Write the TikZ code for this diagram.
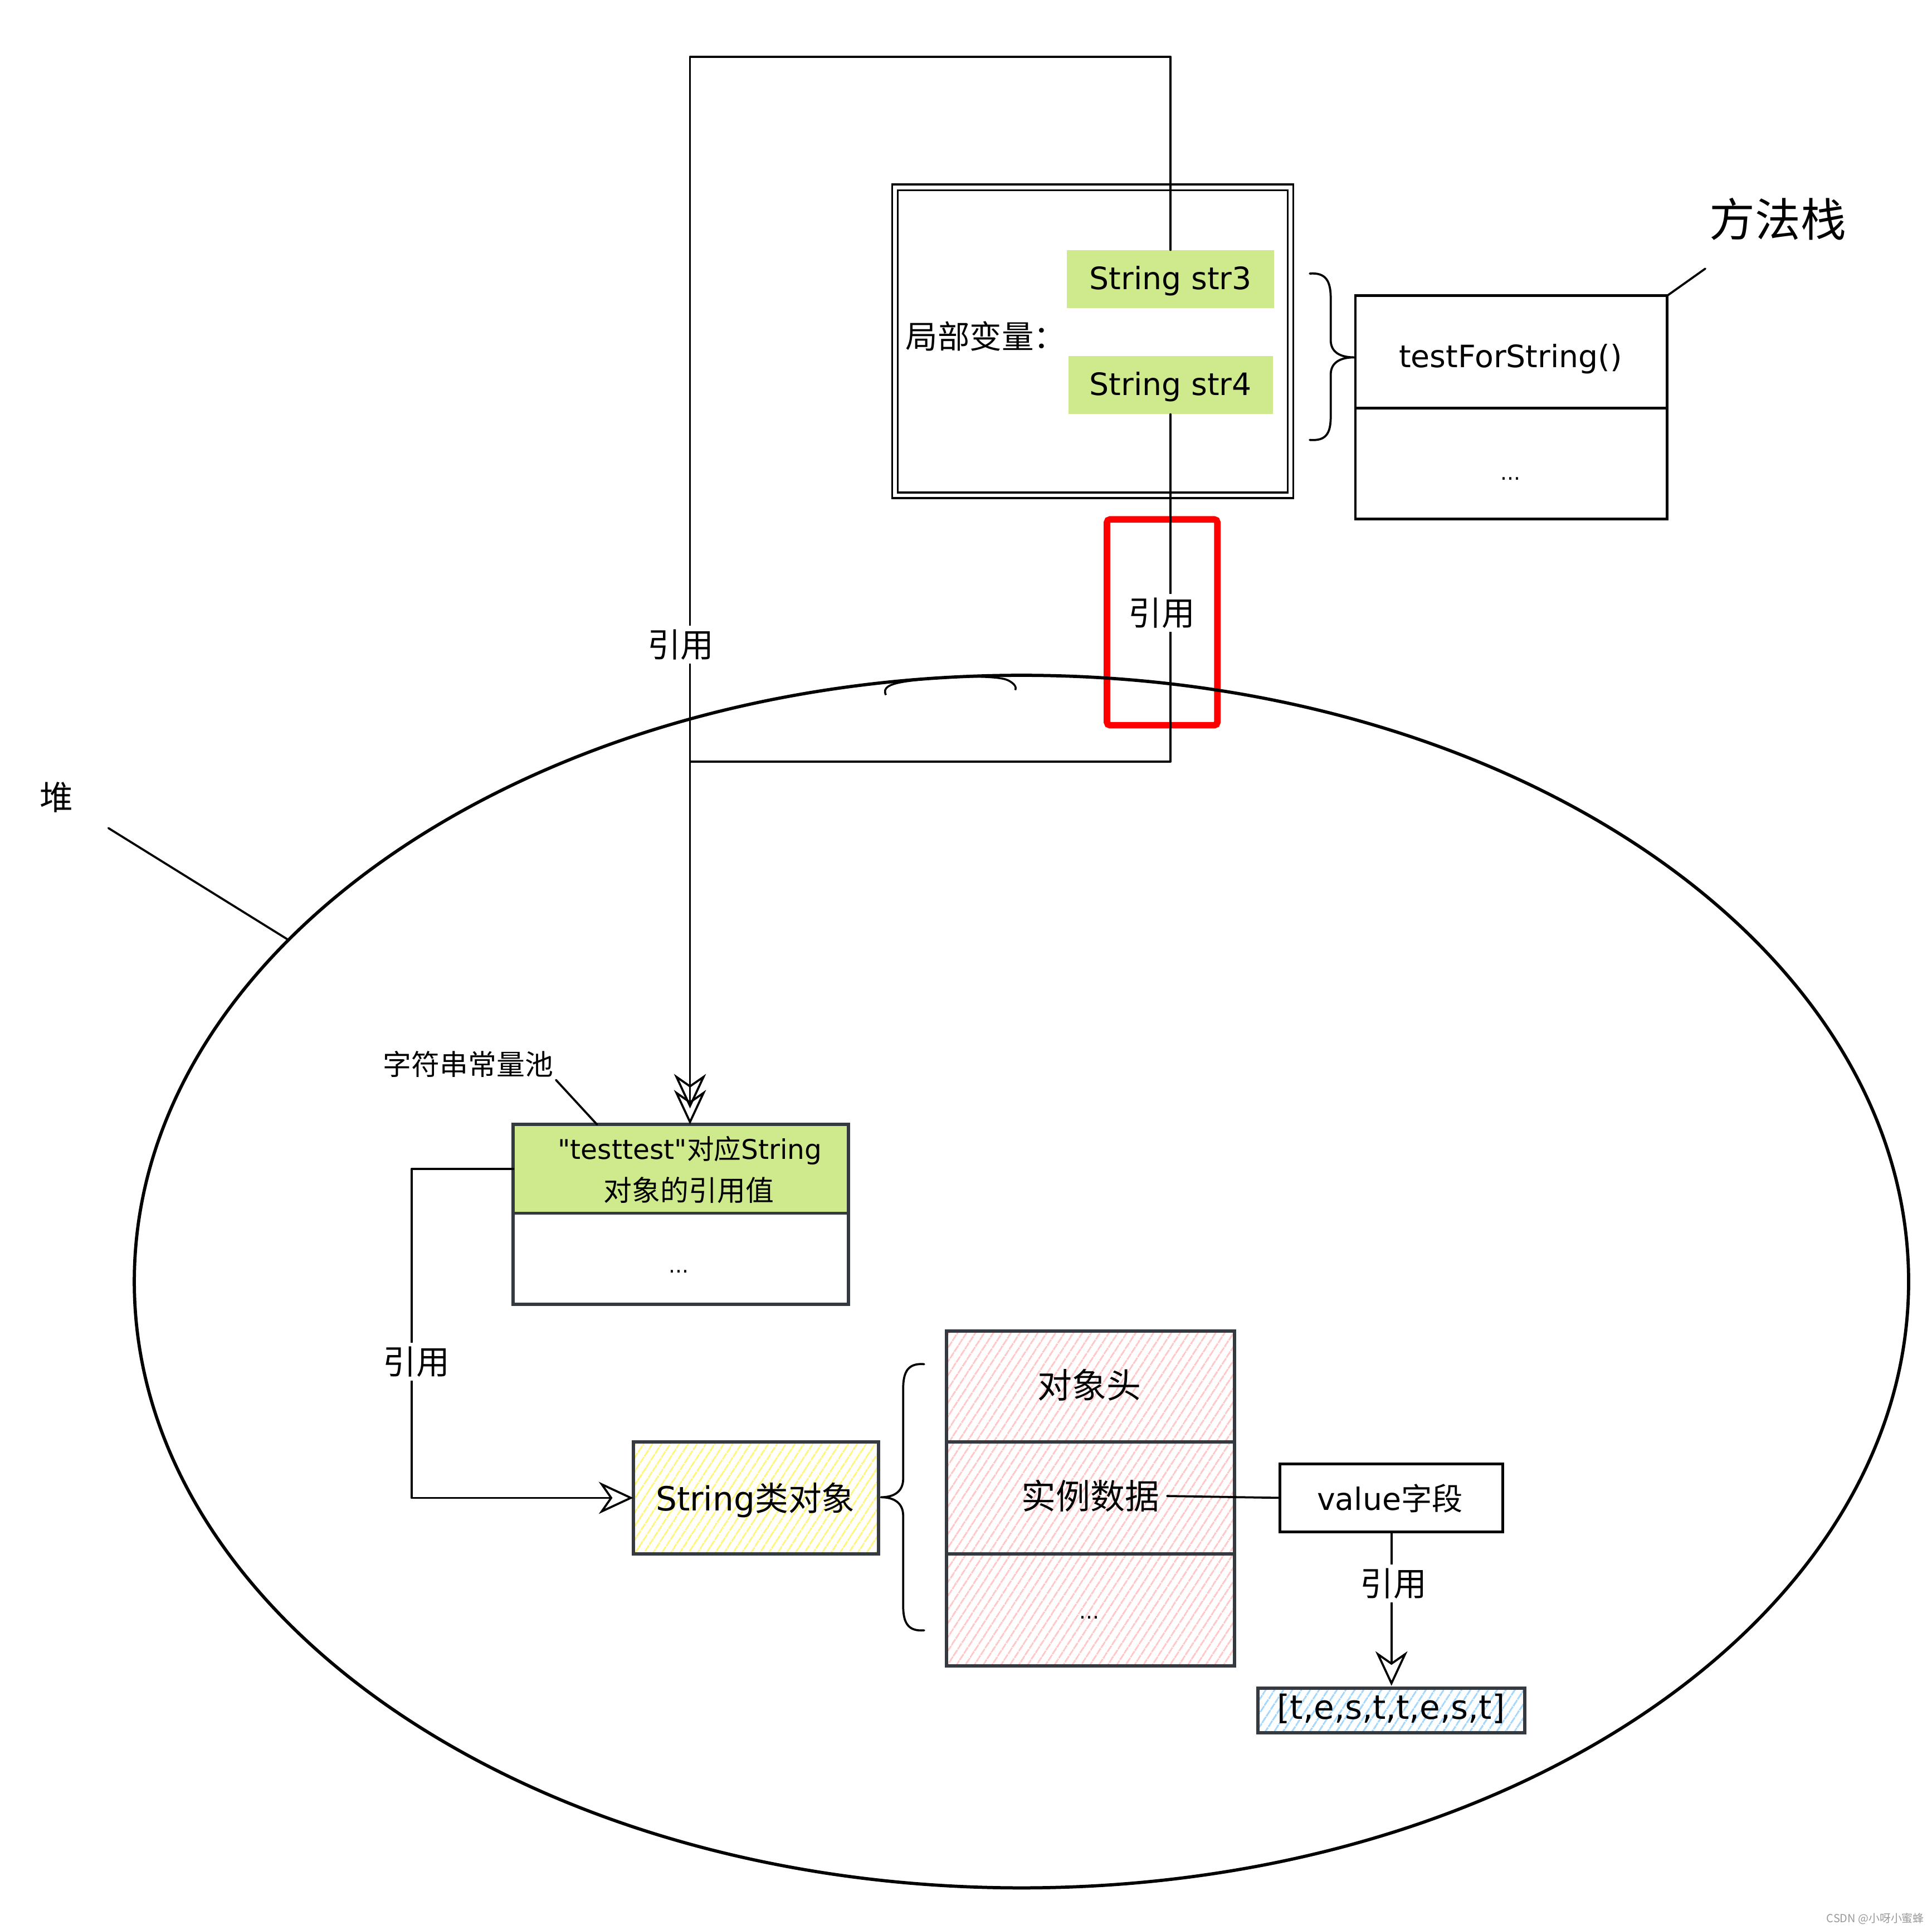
\documentclass[tikz,border=0pt]{standalone}
\usepackage{fontspec}
\setmainfont{Noto Sans CJK SC}
\newfontfamily\lat{DejaVu Sans}
\usetikzlibrary{arrows.meta,shapes.geometric,patterns.meta,calc}
\definecolor{lgreen}{HTML}{CEEA8C}
\definecolor{hpink}{HTML}{FFC9C9}
\definecolor{hyellow}{HTML}{FFF57F}
\definecolor{hblue}{HTML}{A5D8FF}
\definecolor{strokeg}{HTML}{343A40}
\newcommand\fsz[1]{\fontsize{#1}{#1}\selectfont}
\begin{document}
\begin{tikzpicture}[x=1pt,y=-1pt,
  conn/.style={line width=1.7pt, draw=black, line cap=round, line join=round},
  arrowc/.style={conn, -{Stealth[open, length=28pt, width=26pt, inset=9pt]}},
  boxs/.style={draw=black, line width=2.2pt, inner sep=0pt, outer sep=0pt},
  gbox/.style={draw=strokeg, line width=2.6pt, inner sep=0pt, outer sep=0pt},
  hatch/.style={pattern={Lines[angle=57,distance=6.5pt,line width=1.5pt]}},
  lab/.style={fill=white, inner sep=3pt, font=\fsz{27}},
]
\useasboundingbox (0,0) rectangle (1568,1566);

% highlight box and heap
\node[draw=red, line width=5.3pt, rounded corners=2.5pt, minimum width=89.6pt, minimum height=167pt, inner sep=0pt] (redbox) at (943.2,505) {};
\node[draw, ellipse, line width=2.6pt, minimum width=1440pt, minimum height=984pt, inner sep=0pt] (heap) at (829,1040) {};
\draw[line width=1.6pt] (719,564) .. controls (716,558) and (722,555) .. (735,553) .. controls (770,548) and (810,548) .. (818,552) .. controls (824,555) and (825,558) .. (824,560);

% local variables
\node[draw, double, double distance=3pt, line width=1.6pt, minimum width=321pt, minimum height=250pt, inner sep=0pt] (locvar) at (886.8,277) {};
\node[font=\fsz{26}] (lvtxt) at (800,273) {局部变量：};
\node[fill=lgreen, minimum width=168pt, minimum height=47pt, inner sep=0pt] (str3) at (950,226.5) {};
\node[anchor=base, font=\lat\fsz{25}] (str3txt) at (950,235) {String str3};
\node[fill=lgreen, minimum width=166pt, minimum height=47pt, inner sep=0pt] (str4) at (950,312.5) {};
\node[anchor=base, font=\lat\fsz{25}] (str4txt) at (950,321) {String str4};

% method stack
\node[boxs, minimum width=253pt, minimum height=91pt] (mtop) at (1226.5,285.5) {};
\node[boxs, minimum width=253pt, minimum height=90pt] (mbot) at (1226.5,376) {};
\node[anchor=base, font=\lat\fsz{25}] (mtoptxt) at (1226,298) {testForString()};
\node[anchor=base, font=\lat\fsz{17}] (mbottxt) at (1226,389.5) {...};
\node[font=\fsz{37}] (mslbl) at (1443,178) {方法栈};
\coordinate (msl) at (1384,218);
\draw[conn] (mtop.north east) -- (msl);
\draw[conn] (1063,222) .. controls (1076,221) and (1080,228) .. (1080,242) -- (1080,276) .. controls (1080,286) and (1088,290) .. (1099,290) .. controls (1088,290) and (1080,294) .. (1080,304) -- (1080,338) .. controls (1080,352) and (1076,358) .. (1063,357);

% heap label
\node[font=\fsz{27}] (heaplbl) at (46,647) {堆};
\coordinate (heaplead) at (88,672);
\draw[conn] (heaplead) -- (heap.155.3);

% string pool
\node[font=\fsz{23}, inner sep=2pt] (poollbl) at (380,863.5) {字符串常量池};
\node[gbox, fill=lgreen, minimum width=272pt, minimum height=72pt] (pooltop) at (552.5,948.5) {};
\node[gbox, minimum width=272pt, minimum height=74pt] (poolbot) at (552.5,1021.5) {};
\node[anchor=base, font=\fsz{22}] (pooltxt1) at (560,940.5) {{\lat "testtest"}对应{\lat String}};
\node[font=\fsz{23}] (pooltxt2) at (559,966) {对象的引用值};
\node[anchor=base, font=\lat\fsz{17}] (pooldots) at (551,1033) {...};
\draw[conn] (poollbl.south east) -- ($(pooltop.north west)+(68,0)$);

% String object
\node[gbox, hatch, pattern color=hyellow, minimum width=199pt, minimum height=91pt] (strobj) at (613.5,1215.5) {};
\node[anchor=base, font=\fsz{27}] (strobjtxt) at (613,1226) {{\lat String}类对象};
\draw[conn] (750,1107) .. controls (737,1106) and (733,1113) .. (733,1127) -- (733,1200) .. controls (733,1210) and (726,1215) .. (715,1215) .. controls (726,1215) and (733,1220) .. (733,1230) -- (733,1303) .. controls (733,1317) and (737,1324) .. (750,1323);

% object layout
\node[gbox, hatch, pattern color=hpink, minimum width=234pt, minimum height=90pt] (objhead) at (885,1125) {};
\node[gbox, hatch, pattern color=hpink, minimum width=234pt, minimum height=91pt] (objdata) at (885,1215.5) {};
\node[gbox, hatch, pattern color=hpink, minimum width=234pt, minimum height=91pt] (objmore) at (885,1306.5) {};
\node[font=\fsz{28}] (headtxt) at (884,1124) {对象头};
\node[font=\fsz{28}, inner sep=6pt] (datatxt) at (885,1214) {实例数据};
\node[anchor=base, font=\lat\fsz{17}] (moretxt) at (884,1313.5) {...};

% value field and array
\node[boxs, fill=white, minimum width=181pt, minimum height=55pt] (valbox) at (1129.3,1215.5) {};
\node[anchor=base, font=\fsz{25}] (valtxt) at (1128,1225.5) {{\lat value}字段};
\node[gbox, hatch, pattern color=hblue, minimum width=216.6pt, minimum height=36pt] (arrbox) at (1129.3,1388) {};
\node[font=\lat\fsz{27}] (arrtxt) at (1129,1386.4) {[t,e,s,t,t,e,s,t]};

% connectors
\coordinate (tr) at (950,46);
\coordinate (tl) at (560,46);
\coordinate (br) at (950,618);
\coordinate (bl) at (560,618);
\draw[arrowc, shorten >=13pt] (str3.north) -- (tr) -- (tl) -- (tl |- pooltop.north);
\draw[arrowc] (str4.south) -- (br) -- (bl) -- (bl |- pooltop.north);
\draw[arrowc] (pooltop.west) -- ++(-82.5,0) |- (strobj.west);
\draw[conn] (datatxt.east) -- (valbox.west);
\draw[arrowc, shorten >=2pt] (valbox.south) -- (arrbox.north);

% connector labels
\node[lab] (ref1) at (552.5,523) {引用};
\node[lab] (ref2) at (943,497.5) {引用};
\node[lab] (ref3) at (338,1105) {引用};
\node[lab] (ref4) at (1131,1285) {引用};

% watermark
\node[font=\fsz{9}, text=black!40] (wm) at (1522,1557) {CSDN @小呀小蜜蜂};
\end{tikzpicture}
\end{document}
